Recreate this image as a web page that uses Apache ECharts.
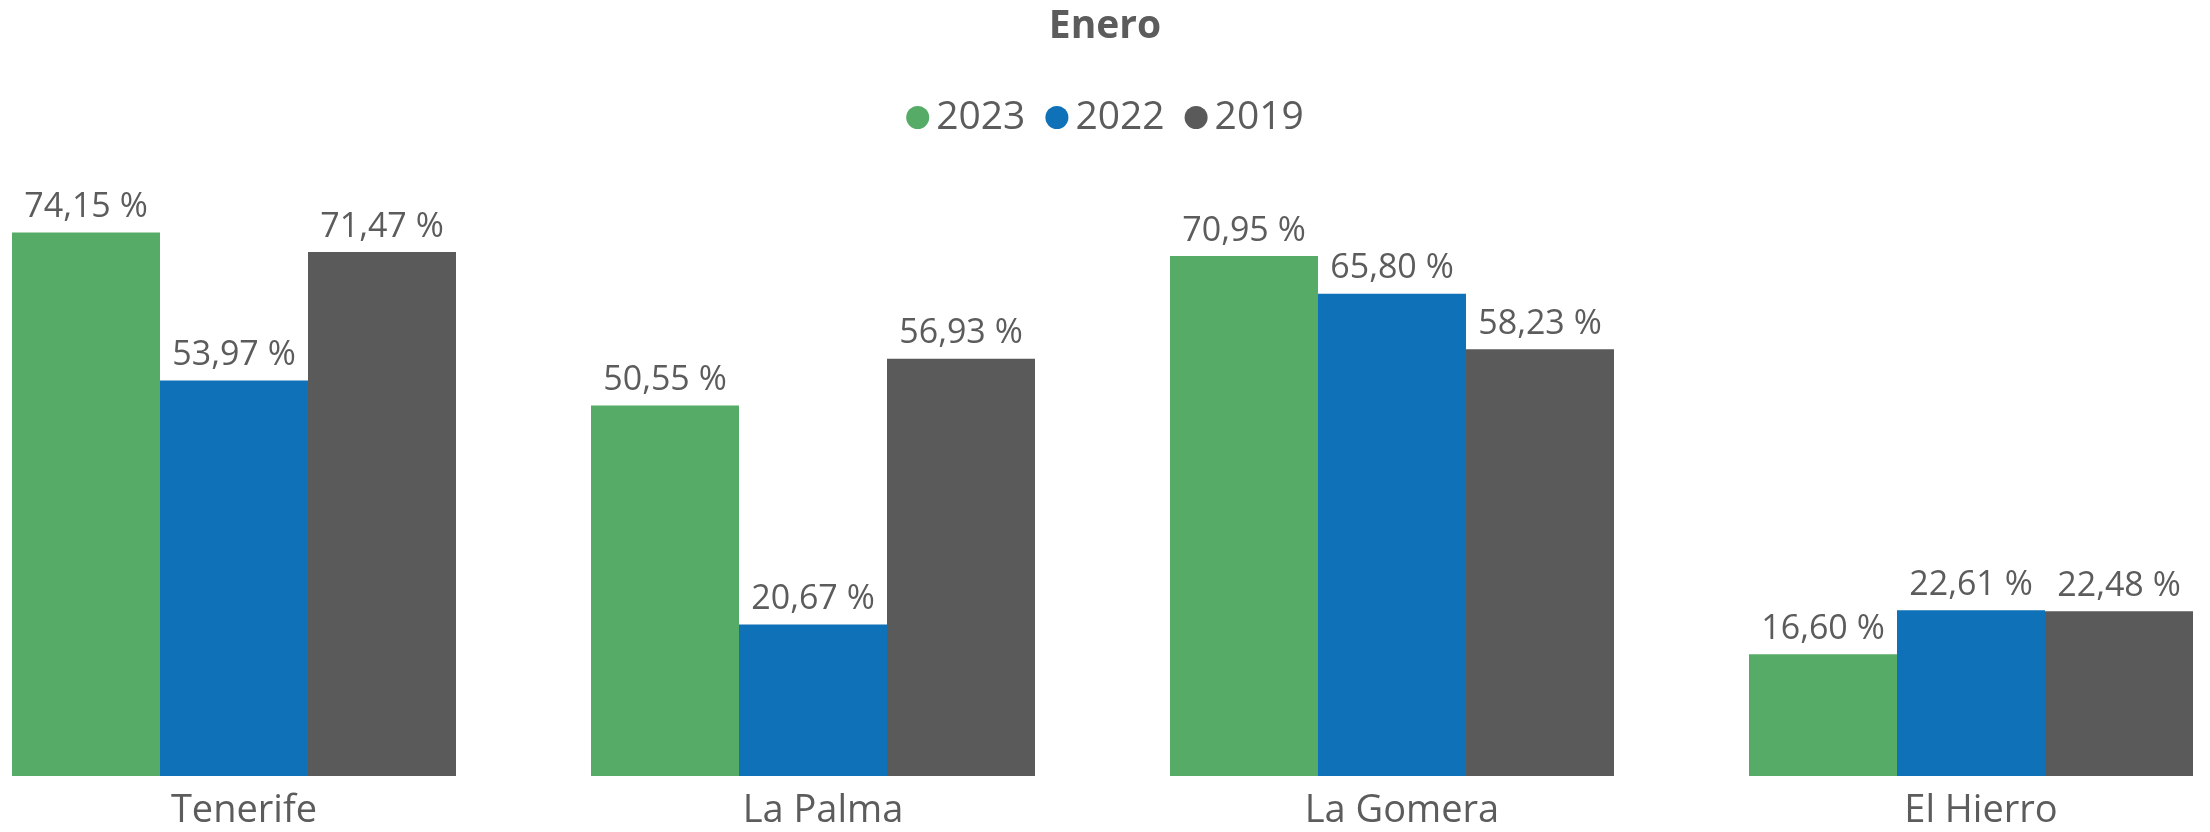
<!DOCTYPE html>
<html>
<head>
<meta charset="utf-8">
<script src="https://cdn.jsdelivr.net/npm/echarts@6/dist/echarts.min.js"></script>
<style>
  html, body { margin: 0; padding: 0; background: #fff; }
  #chart { width: 2210px; height: 832px; }
</style>
</head>
<body>
<div id="chart"></div>
<script>
// islas
var islas = ['Tenerife', 'La Palma', 'La Gomera', 'El Hierro'];
// ocupación (%) por año
var serie2023 = [74.15, 50.55, 70.95, 16.60];
var serie2022 = [53.97, 20.67, 65.80, 22.61];
var serie2019 = [71.47, 56.93, 58.23, 22.48];
var anios = ['2023', '2022', '2019'];

var colores = ['#56AC67', '#0F71B8', '#5A5A5A'];
var textColor = '#5c5c5c';
var fuente = '"Open Sans", "Noto Sans", sans-serif';

function etiqueta(p) {
  return p.value.toFixed(2).replace('.', ',') + ' %';
}

function serie(nombre, datos, i) {
  return {
    name: nombre,
    type: 'bar',
    data: datos,
    barWidth: 148,
    barGap: '0%',
    itemStyle: { color: colores[i] },
    label: {
      show: true,
      position: 'top',
      distance: 8,
      formatter: etiqueta,
      color: textColor,
      fontFamily: fuente,
      fontSize: 34
    }
  };
}

var myChart = echarts.init(document.getElementById('chart'));
myChart.setOption({
  animation: false,
  backgroundColor: '#fff',
  title: {
    text: 'Enero',
    left: 'center',
    top: 7,
    padding: [0, 0, 0, 16],
    textStyle: { color: textColor, fontFamily: fuente, fontWeight: 'bold', fontSize: 39 }
  },
  legend: {
    data: anios,
    left: 'center',
    top: 98,
    padding: 0,
    icon: 'circle',
    itemWidth: 23,
    itemHeight: 23,
    itemGap: 20,
    textStyle: { color: textColor, fontFamily: fuente, fontSize: 39, padding: [0, 0, 0, 2] }
  },
  grid: {
    left: -55.5,
    right: -50.5,
    top: 43,
    bottom: 56,
    containLabel: false,
    outerBoundsMode: 'none'
  },
  xAxis: {
    type: 'category',
    data: islas,
    axisLine: { show: false },
    axisTick: { show: false },
    splitLine: { show: false },
    axisLabel: {
      color: textColor, fontFamily: fuente, fontSize: 38, margin: 16, interval: 0,
      padding: [0, 0, 0, 20]
    }
  },
  yAxis: {
    type: 'value',
    min: 0,
    max: 100,
    show: false,
    splitLine: { show: false }
  },
  series: [
    serie(anios[0], serie2023, 0),
    serie(anios[1], serie2022, 1),
    serie(anios[2], serie2019, 2)
  ]
});
</script>
</body>
</html>
